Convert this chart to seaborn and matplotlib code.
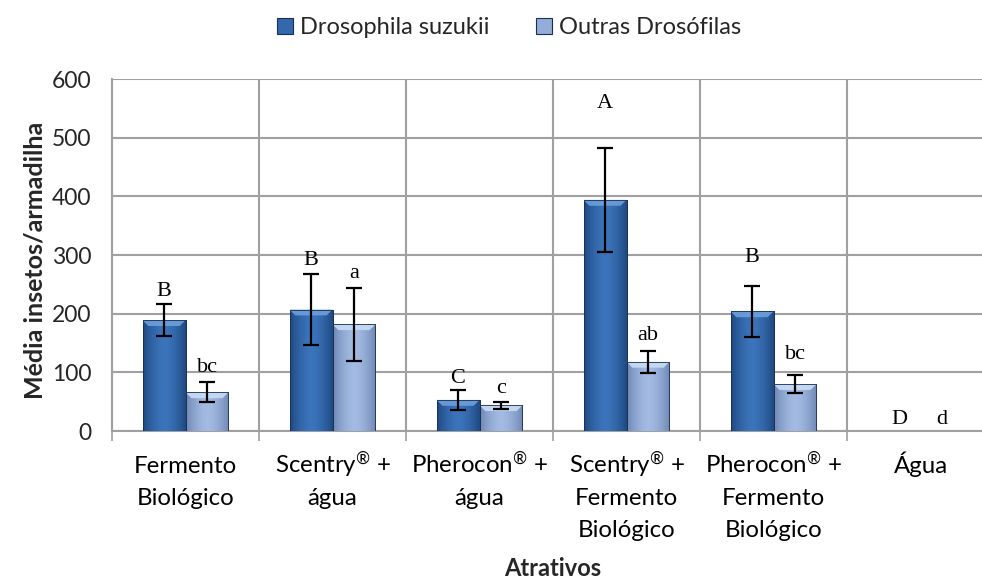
import matplotlib
matplotlib.use("Agg")
import matplotlib.pyplot as plt
from matplotlib.colors import LinearSegmentedColormap
from matplotlib.patches import Polygon
from matplotlib.transforms import blended_transform_factory
import seaborn as sns
import pandas as pd
import numpy as np

# data
categories = ["Fermento\nBiológico", "Scentry$^{®}$ +\nágua", "Pherocon$^{®}$ +\nágua",
              "Scentry$^{®}$ +\nFermento\nBiológico", "Pherocon$^{®}$ +\nFermento\nBiológico", "Água"]
series = ["Drosophila suzukii", "Outras Drosófilas"]
suzukii_mean = [189, 207, 53, 394, 204, 0]
suzukii_err = [27, 60, 17, 89, 44, 0]
outras_mean = [66, 182, 44, 118, 80, 0]
outras_err = [17, 62, 6, 19, 15, 0]
suzukii_letters = ["B", "B", "C", "A", "B", "D"]
outras_letters = ["bc", "a", "c", "ab", "bc", "d"]
suzukii_letter_y = [237, 291, 90, 559, 295, 19]
outras_letter_y = [109, 269, 72, 162, 130, 19]

colors = ["#3368ad", "#93acd8"]
edge_dark = ["#1f4a82", "#7089b5"]
centre_light = ["#3b74bb", "#a3bbe2"]
bevel = ["#6d9fdc", "#c9dcf5"]

df = pd.DataFrame({
    "cat": categories * 2,
    "serie": [series[0]] * 6 + [series[1]] * 6,
    "val": suzukii_mean + outras_mean,
})

sns.set_theme(style="white")
plt.rcParams["font.family"] = ["Lato", "DejaVu Sans"]
plt.rcParams["mathtext.fontset"] = "custom"
plt.rcParams["mathtext.rm"] = "Lato"
plt.rcParams["mathtext.it"] = "Lato:italic"
plt.rcParams["mathtext.bf"] = "Lato:bold"
plt.rcParams["mathtext.default"] = "regular"

fig = plt.figure(figsize=(9.82, 5.81), dpi=100)
ax = fig.add_axes([112 / 982, 150 / 581, 882 / 982, 352 / 581])

sns.barplot(data=df, x="cat", y="val", hue="serie", palette=colors,
            width=0.585, gap=0, ax=ax, errorbar=None, legend=False,
            edgecolor="#1a2e50", linewidth=0.6, zorder=3)

n = len(categories)
ax.set_ylim(0, 600)
ax.set_xlim(-0.5, n - 0.5)

# gradient shading of bars (clipped to each seaborn bar)
bars = ax.patches[:2 * n]
prof = np.abs(np.linspace(-1, 1, 64)) ** 1.6
for s in range(2):
    cmap = LinearSegmentedColormap.from_list("g%d" % s, [centre_light[s], edge_dark[s]])
    for b in bars[s * n:(s + 1) * n]:
        x0, w, h = b.get_x(), b.get_width(), b.get_height()
        if h <= 0:
            continue
        im = ax.imshow(prof[None, :], cmap=cmap, vmin=0, vmax=1, aspect="auto",
                       extent=[x0, x0 + w, 0, h], zorder=3.1, interpolation="bilinear")
        im.set_clip_path(b)
        bh = min(10, h * 0.5)
        inset = 0.04
        ax.add_patch(Polygon([[x0, h], [x0 + w, h], [x0 + w - inset, h - bh], [x0 + inset, h - bh]],
                             closed=True, facecolor=bevel[s], edgecolor="none", zorder=3.2, alpha=0.9))
        ax.add_patch(plt.Rectangle((x0, 0), w, h, facecolor="none", edgecolor="#1a2e50",
                                   linewidth=0.6, zorder=3.3))
ax.set_xlim(-0.5, n - 0.5)
ax.set_ylim(0, 600)

# error bars and letters
means = [suzukii_mean, outras_mean]
errs = [suzukii_err, outras_err]
letters = [suzukii_letters, outras_letters]
letter_y = [suzukii_letter_y, outras_letter_y]
for s in range(2):
    xs = [b.get_x() + b.get_width() / 2 for b in bars[s * n:(s + 1) * n]]
    for i in range(n):
        if errs[s][i] > 0:
            ax.errorbar(xs[i], means[s][i], yerr=errs[s][i], fmt="none",
                        ecolor="black", elinewidth=1.6, capsize=6, capthick=1.6, zorder=4)
        ax.text(xs[i], letter_y[s][i], letters[s][i], ha="center", va="center",
                fontsize=16, family="Liberation Serif", color="black", zorder=5)

ax.set_yticks(range(0, 601, 100))
ax.set_xticks(range(n))
ax.set_xticklabels([])
ax.set_xticks(np.arange(-0.5, n, 1.0), minor=True)
ax.grid(False)
ax.yaxis.grid(True, color="#a0a0a0", linewidth=1.5, zorder=0)
ax.xaxis.grid(True, which="minor", color="#a0a0a0", linewidth=1.5, zorder=0)
ax.set_axisbelow(True)

ax.tick_params(axis="x", which="major", length=0)
ax.tick_params(axis="x", which="minor", length=7, width=1.2, color="#a0a0a0", direction="out")
ax.tick_params(axis="y", length=7, width=1.2, color="#a0a0a0", direction="out", labelsize=16.5, pad=8)
ax.xaxis.set_tick_params(which="minor", bottom=True)

# category labels, one text per line so that baselines line up
trans = blended_transform_factory(ax.transData, ax.transAxes)
first_base = (431 - 473) / 352
line_step = 32 / 352
for i, cat in enumerate(categories):
    for j, line in enumerate(cat.split("\n")):
        ax.text(i, first_base - j * line_step, line, transform=trans, ha="center",
                va="baseline", fontsize=17.3, color="black", clip_on=False)

for side in ["top", "right"]:
    ax.spines[side].set_visible(False)
for side in ["left", "bottom"]:
    ax.spines[side].set_color("#a0a0a0")
    ax.spines[side].set_linewidth(1.5)

ax.set_xlabel("")
ax.text(0.5, (431 - 576) / 352, "Atrativos", transform=ax.transAxes, ha="center",
        va="baseline", fontsize=17, fontweight="bold")
ax.set_ylabel("Média insetos/armadilha", fontsize=18, fontweight="bold")
ax.yaxis.set_label_coords((35 - 112) / 882, (431 - 260) / 352)
ax.yaxis.label.set_va("center")

handles = [plt.Rectangle((0, 0), 1, 1, facecolor=c, edgecolor="#1a2e50", linewidth=0.8) for c in colors]
fig.legend(handles, series, loc="center", bbox_to_anchor=(509 / 982, 1 - 28 / 581),
           ncol=2, frameon=False, fontsize=17, handlelength=0.65, handleheight=0.65,
           handletextpad=0.3, columnspacing=2.0)

fig.savefig("out.png", dpi=100)
